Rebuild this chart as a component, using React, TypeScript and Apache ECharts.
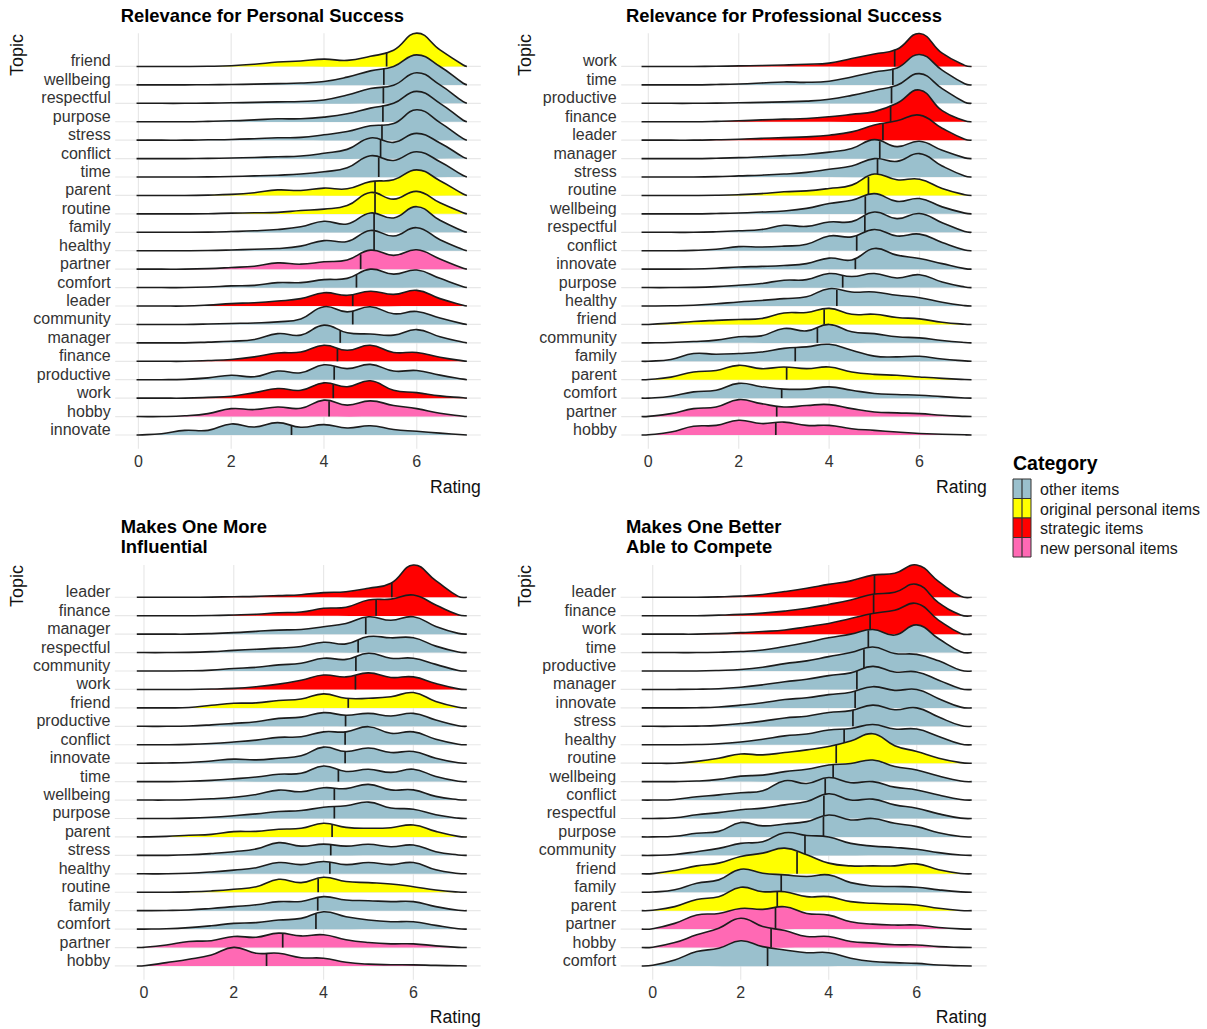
import React, { useEffect, useRef } from "react";
import * as echarts from "echarts";

// ---------- shared data ----------
const X_GRID = [0, 0.5, 1, 1.5, 2, 2.5, 3, 3.5, 4, 4.5, 5, 5.5, 6, 6.5, 7];
const X_TICKS = [0, 2, 4, 6];

const CATEGORY_NAMES = ["other items", "original personal items", "strategic items", "new personal items"];
const CATEGORY_COLORS = ["#9AC0CD", "#FFFF00", "#FF0000", "#FF69B4"];

const TOPIC_CATEGORY: Record<string, number> = {
  friend: 1, parent: 1, routine: 1,
  leader: 2, finance: 2, work: 2,
  partner: 3, hobby: 3,
  wellbeing: 0, respectful: 0, purpose: 0, stress: 0, conflict: 0, time: 0, family: 0,
  healthy: 0, comfort: 0, community: 0, manager: 0, productive: 0, innovate: 0,
};

// ---------- panel 1 ----------
const P1_TITLE = "Relevance for Personal Success";
const P1_TOPICS = ["friend", "wellbeing", "respectful", "purpose", "stress", "conflict", "time", "parent", "routine", "family", "healthy", "partner", "comfort", "leader", "community", "manager", "finance", "productive", "work", "hobby", "innovate"];
const P1_MEANS = [5.35, 5.29, 5.28, 5.27, 5.25, 5.22, 5.18, 5.1, 5.1, 5.08, 5.08, 4.79, 4.7, 4.62, 4.62, 4.35, 4.29, 4.22, 4.2, 4.11, 3.3];
const P1_CURVE_RANGE = [-0.04, 7.08];
const P1_DENSITY: Record<string, number[]> = {
  friend: [0, 0, 0, 0.01, 0.04, 0.12, 0.24, 0.3, 0.4, 0.33, 0.55, 0.88, 1.81, 0.9, 0.08],
  wellbeing: [0, 0, 0, 0.01, 0.02, 0.04, 0.07, 0.1, 0.18, 0.42, 0.76, 1.0, 1.63, 1.0, 0.09],
  respectful: [0, 0, 0, 0.01, 0.03, 0.05, 0.08, 0.1, 0.18, 0.45, 0.8, 0.98, 1.66, 1.0, 0.09],
  purpose: [0, 0, 0, 0.02, 0.05, 0.1, 0.16, 0.16, 0.25, 0.43, 0.74, 1.0, 1.65, 1.0, 0.08],
  stress: [0, 0, 0, 0.02, 0.04, 0.08, 0.13, 0.15, 0.29, 0.47, 0.78, 0.9, 1.65, 0.95, 0.08],
  conflict: [0, 0, 0, 0.01, 0.03, 0.06, 0.1, 0.14, 0.29, 0.5, 1.12, 0.88, 1.37, 0.85, 0.08],
  time: [0, 0, 0, 0.01, 0.03, 0.06, 0.1, 0.16, 0.29, 0.5, 1.15, 0.9, 1.37, 0.83, 0.08],
  parent: [0, 0, 0, 0.02, 0.06, 0.15, 0.3, 0.27, 0.4, 0.36, 0.75, 0.85, 1.39, 0.8, 0.08],
  routine: [0, 0, 0, 0.01, 0.04, 0.06, 0.08, 0.18, 0.26, 0.45, 1.16, 0.8, 1.22, 0.6, 0.06],
  family: [0, 0, 0, 0.01, 0.04, 0.08, 0.15, 0.3, 0.6, 0.45, 1.05, 0.78, 1.39, 0.65, 0.06],
  healthy: [0, 0, 0, 0.01, 0.04, 0.08, 0.12, 0.25, 0.55, 0.5, 1.1, 0.8, 1.25, 0.6, 0.06],
  partner: [0, 0, 0, 0.03, 0.09, 0.16, 0.34, 0.27, 0.4, 0.5, 1.03, 0.75, 1.05, 0.55, 0.05],
  comfort: [0, 0, 0, 0.03, 0.09, 0.12, 0.27, 0.27, 0.43, 0.5, 1.0, 0.73, 0.95, 0.5, 0.05],
  leader: [0, 0, 0, 0.05, 0.13, 0.18, 0.27, 0.4, 0.72, 0.58, 0.8, 0.63, 0.85, 0.4, 0.04],
  community: [0, 0, 0, 0.02, 0.05, 0.08, 0.14, 0.3, 0.96, 0.68, 0.96, 0.58, 0.7, 0.35, 0.03],
  manager: [0, 0, 0, 0.04, 0.09, 0.18, 0.5, 0.42, 0.96, 0.55, 0.48, 0.42, 0.72, 0.33, 0.03],
  finance: [0, 0, 0, 0.04, 0.1, 0.24, 0.45, 0.5, 0.87, 0.6, 0.87, 0.48, 0.48, 0.22, 0.02],
  productive: [0, 0, 0.02, 0.1, 0.24, 0.16, 0.47, 0.38, 0.81, 0.6, 0.83, 0.47, 0.5, 0.25, 0.03],
  work: [0, 0, 0, 0.04, 0.1, 0.3, 0.52, 0.43, 0.83, 0.62, 0.94, 0.43, 0.3, 0.12, 0.02],
  hobby: [0, 0, 0.04, 0.16, 0.43, 0.38, 0.52, 0.45, 0.89, 0.62, 0.85, 0.6, 0.43, 0.18, 0.02],
  innovate: [0, 0.07, 0.25, 0.25, 0.6, 0.43, 0.67, 0.42, 0.56, 0.38, 0.5, 0.3, 0.2, 0.1, 0.01],
};

// ---------- panel 2 ----------
const P2_TITLE = "Relevance for Professional Success";
const P2_TOPICS = ["work", "time", "productive", "finance", "leader", "manager", "stress", "routine", "wellbeing", "respectful", "conflict", "innovate", "purpose", "healthy", "friend", "community", "family", "parent", "comfort", "partner", "hobby"];
const P2_MEANS = [5.45, 5.41, 5.38, 5.36, 5.19, 5.12, 5.07, 4.87, 4.8, 4.79, 4.61, 4.58, 4.3, 4.17, 3.89, 3.74, 3.25, 3.06, 2.95, 2.84, 2.82];
const P2_CURVE_RANGE = [-0.15, 7.15];
const P2_DENSITY: Record<string, number[]> = {
  work: [0, 0, 0, 0.01, 0.03, 0.05, 0.08, 0.12, 0.18, 0.43, 0.68, 0.93, 1.79, 0.72, 0.06],
  time: [0, 0, 0, 0.02, 0.05, 0.1, 0.16, 0.14, 0.2, 0.43, 0.7, 0.92, 1.65, 0.8, 0.06],
  productive: [0, 0, 0, 0.01, 0.03, 0.05, 0.08, 0.12, 0.22, 0.43, 0.7, 0.98, 1.61, 0.8, 0.06],
  finance: [0, 0, 0, 0.02, 0.05, 0.1, 0.14, 0.18, 0.27, 0.4, 0.55, 1.0, 1.72, 0.6, 0.05],
  leader: [0, 0, 0, 0.02, 0.05, 0.1, 0.14, 0.18, 0.27, 0.45, 0.82, 1.05, 1.36, 0.65, 0.05],
  manager: [0, 0, 0, 0.02, 0.05, 0.1, 0.16, 0.22, 0.35, 0.55, 1.03, 0.65, 0.94, 0.45, 0.04],
  stress: [0, 0, 0, 0.02, 0.06, 0.1, 0.16, 0.25, 0.42, 0.6, 1.0, 0.85, 1.27, 0.6, 0.05],
  routine: [0, 0, 0, 0.01, 0.04, 0.1, 0.2, 0.25, 0.38, 0.56, 1.16, 0.85, 0.88, 0.38, 0.04],
  wellbeing: [0, 0, 0, 0.02, 0.05, 0.1, 0.16, 0.3, 0.56, 0.74, 1.1, 0.68, 0.83, 0.38, 0.04],
  respectful: [0, 0, 0, 0.03, 0.08, 0.15, 0.38, 0.32, 0.56, 0.58, 1.1, 0.74, 1.02, 0.52, 0.04],
  conflict: [0, 0, 0.02, 0.08, 0.22, 0.2, 0.25, 0.35, 0.8, 0.75, 1.15, 0.8, 0.9, 0.45, 0.04],
  innovate: [0, 0, 0.01, 0.05, 0.12, 0.15, 0.2, 0.3, 0.6, 0.5, 1.12, 0.76, 0.58, 0.3, 0.03],
  purpose: [0, 0, 0.01, 0.05, 0.13, 0.22, 0.4, 0.43, 0.76, 0.6, 0.76, 0.52, 0.7, 0.3, 0.03],
  healthy: [0, 0.01, 0.04, 0.12, 0.22, 0.3, 0.4, 0.5, 0.94, 0.76, 0.76, 0.58, 0.45, 0.2, 0.02],
  friend: [0, 0.07, 0.16, 0.22, 0.27, 0.32, 0.62, 0.65, 0.87, 0.55, 0.55, 0.38, 0.3, 0.12, 0.01],
  community: [0, 0.02, 0.07, 0.15, 0.33, 0.38, 0.78, 0.65, 1.0, 0.6, 0.5, 0.33, 0.27, 0.13, 0.02],
  family: [0, 0.1, 0.42, 0.38, 0.42, 0.5, 0.7, 0.78, 0.92, 0.6, 0.28, 0.24, 0.27, 0.12, 0.02],
  parent: [0.01, 0.14, 0.42, 0.5, 0.78, 0.6, 0.69, 0.6, 0.69, 0.42, 0.29, 0.24, 0.15, 0.07, 0.01],
  comfort: [0, 0.1, 0.34, 0.43, 0.8, 0.62, 0.49, 0.49, 0.61, 0.43, 0.25, 0.2, 0.16, 0.08, 0.01],
  partner: [0.01, 0.16, 0.43, 0.52, 0.92, 0.7, 0.52, 0.6, 0.65, 0.43, 0.25, 0.2, 0.16, 0.07, 0.01],
  hobby: [0.01, 0.16, 0.47, 0.52, 0.8, 0.62, 0.7, 0.52, 0.52, 0.34, 0.25, 0.16, 0.08, 0.04, 0.01],
};

// ---------- panel 3 ----------
const P3_TITLE = "Makes One More\nInfluential";
const P3_TOPICS = ["leader", "finance", "manager", "respectful", "community", "work", "friend", "productive", "conflict", "innovate", "time", "wellbeing", "purpose", "parent", "stress", "healthy", "routine", "family", "comfort", "partner", "hobby"];
const P3_MEANS = [5.52, 5.17, 4.94, 4.77, 4.72, 4.71, 4.55, 4.49, 4.48, 4.48, 4.33, 4.24, 4.24, 4.19, 4.16, 4.14, 3.88, 3.87, 3.83, 3.09, 2.73];
const P3_CURVE_RANGE = [-0.16, 7.19];
const P3_DENSITY: Record<string, number[]> = {
  leader: [0, 0, 0, 0.01, 0.03, 0.05, 0.09, 0.14, 0.25, 0.3, 0.49, 0.76, 1.75, 0.9, 0.05],
  finance: [0, 0, 0, 0.01, 0.04, 0.08, 0.16, 0.2, 0.4, 0.46, 0.85, 0.9, 1.12, 0.58, 0.05],
  manager: [0, 0, 0, 0.03, 0.08, 0.15, 0.22, 0.25, 0.4, 0.58, 0.94, 0.75, 0.94, 0.42, 0.04],
  respectful: [0, 0, 0.01, 0.05, 0.12, 0.18, 0.24, 0.33, 0.56, 0.47, 0.87, 0.8, 0.8, 0.35, 0.03],
  community: [0, 0, 0.01, 0.05, 0.14, 0.2, 0.33, 0.42, 0.69, 0.63, 0.96, 0.69, 0.69, 0.36, 0.03],
  work: [0, 0, 0, 0.02, 0.06, 0.15, 0.29, 0.5, 0.78, 0.68, 0.9, 0.65, 0.68, 0.32, 0.03],
  friend: [0, 0, 0.02, 0.14, 0.25, 0.27, 0.4, 0.48, 0.76, 0.52, 0.52, 0.6, 0.83, 0.35, 0.03],
  productive: [0, 0, 0.02, 0.08, 0.16, 0.25, 0.43, 0.5, 0.74, 0.6, 0.7, 0.56, 0.7, 0.34, 0.03],
  conflict: [0, 0, 0.02, 0.07, 0.15, 0.25, 0.4, 0.43, 0.7, 0.7, 0.98, 0.62, 0.7, 0.3, 0.03],
  innovate: [0, 0.01, 0.04, 0.12, 0.22, 0.18, 0.27, 0.4, 0.87, 0.63, 0.82, 0.58, 0.63, 0.27, 0.02],
  time: [0, 0, 0.02, 0.07, 0.15, 0.25, 0.4, 0.45, 0.85, 0.55, 0.67, 0.5, 0.67, 0.28, 0.02],
  wellbeing: [0, 0, 0.02, 0.07, 0.15, 0.3, 0.54, 0.45, 0.67, 0.62, 0.85, 0.55, 0.55, 0.2, 0.02],
  purpose: [0, 0, 0.02, 0.07, 0.15, 0.25, 0.38, 0.43, 0.61, 0.69, 0.89, 0.57, 0.5, 0.2, 0.02],
  parent: [0, 0.03, 0.09, 0.14, 0.29, 0.3, 0.42, 0.47, 0.74, 0.52, 0.47, 0.5, 0.65, 0.3, 0.03],
  stress: [0, 0, 0.03, 0.1, 0.2, 0.35, 0.69, 0.5, 0.61, 0.5, 0.6, 0.47, 0.56, 0.2, 0.02],
  healthy: [0, 0, 0.03, 0.1, 0.2, 0.33, 0.61, 0.5, 0.67, 0.5, 0.61, 0.5, 0.61, 0.22, 0.02],
  routine: [0, 0, 0.02, 0.07, 0.16, 0.3, 0.7, 0.52, 0.81, 0.58, 0.52, 0.45, 0.3, 0.12, 0.01],
  family: [0, 0.01, 0.04, 0.12, 0.22, 0.32, 0.49, 0.5, 0.76, 0.58, 0.54, 0.49, 0.49, 0.22, 0.02],
  comfort: [0, 0.02, 0.08, 0.18, 0.31, 0.35, 0.49, 0.58, 0.94, 0.67, 0.49, 0.4, 0.4, 0.2, 0.02],
  partner: [0.01, 0.14, 0.33, 0.37, 0.6, 0.56, 0.78, 0.63, 0.69, 0.42, 0.27, 0.2, 0.2, 0.09, 0.01],
  hobby: [0.01, 0.18, 0.36, 0.6, 1.01, 0.69, 0.69, 0.45, 0.42, 0.2, 0.1, 0.07, 0.06, 0.03, 0.01],
};

// ---------- panel 4 ----------
const P4_TITLE = "Makes One Better\nAble to Compete";
const P4_TOPICS = ["leader", "finance", "work", "time", "productive", "manager", "innovate", "stress", "healthy", "routine", "wellbeing", "conflict", "respectful", "purpose", "community", "friend", "family", "parent", "partner", "hobby", "comfort"];
const P4_MEANS = [5.04, 5.02, 4.94, 4.9, 4.8, 4.64, 4.6, 4.55, 4.35, 4.17, 4.1, 3.92, 3.89, 3.88, 3.46, 3.28, 2.92, 2.83, 2.79, 2.69, 2.61];
const P4_CURVE_RANGE = [-0.25, 7.25];
const P4_DENSITY: Record<string, number[]> = {
  leader: [0, 0, 0, 0.02, 0.06, 0.15, 0.31, 0.49, 0.7, 0.89, 1.2, 1.3, 1.75, 0.85, 0.05],
  finance: [0, 0, 0, 0.03, 0.07, 0.14, 0.25, 0.4, 0.61, 0.85, 1.16, 1.27, 1.7, 0.7, 0.04],
  work: [0, 0, 0, 0.03, 0.08, 0.14, 0.22, 0.4, 0.58, 0.85, 1.12, 1.3, 1.66, 0.75, 0.04],
  time: [0, 0, 0, 0.02, 0.06, 0.14, 0.33, 0.55, 0.8, 1.0, 1.25, 0.95, 1.5, 0.75, 0.05],
  productive: [0, 0, 0, 0.03, 0.08, 0.2, 0.4, 0.55, 0.78, 1.0, 1.3, 0.95, 0.9, 0.55, 0.04],
  manager: [0, 0, 0.01, 0.04, 0.12, 0.25, 0.42, 0.55, 0.75, 0.9, 1.25, 0.95, 0.95, 0.5, 0.04],
  innovate: [0, 0, 0.01, 0.05, 0.15, 0.28, 0.45, 0.55, 0.72, 0.85, 1.15, 0.95, 1.0, 0.5, 0.04],
  stress: [0, 0, 0.01, 0.05, 0.15, 0.28, 0.45, 0.55, 0.75, 0.85, 1.15, 0.9, 1.0, 0.5, 0.04],
  healthy: [0, 0, 0.01, 0.05, 0.15, 0.3, 0.48, 0.58, 0.8, 0.88, 1.1, 0.85, 0.85, 0.45, 0.04],
  routine: [0, 0, 0.1, 0.27, 0.5, 0.45, 0.58, 0.72, 0.9, 1.2, 1.6, 0.95, 0.63, 0.27, 0.03],
  wellbeing: [0, 0, 0.03, 0.12, 0.3, 0.35, 0.54, 0.67, 0.9, 0.98, 1.17, 0.82, 0.63, 0.3, 0.03],
  conflict: [0, 0.03, 0.18, 0.28, 0.4, 0.5, 1.05, 0.9, 1.22, 0.94, 1.0, 0.7, 0.55, 0.27, 0.03],
  respectful: [0, 0.04, 0.2, 0.32, 0.47, 0.56, 0.74, 0.92, 1.34, 1.0, 1.05, 0.74, 0.56, 0.25, 0.02],
  purpose: [0, 0.04, 0.2, 0.3, 0.78, 0.6, 0.7, 0.83, 1.19, 0.92, 1.0, 0.74, 0.56, 0.23, 0.02],
  community: [0, 0.05, 0.2, 0.38, 0.65, 0.74, 1.23, 1.08, 1.0, 0.65, 0.5, 0.43, 0.33, 0.15, 0.02],
  friend: [0.01, 0.18, 0.43, 0.58, 0.94, 1.12, 1.39, 1.03, 0.58, 0.43, 0.43, 0.43, 0.54, 0.22, 0.02],
  family: [0.01, 0.13, 0.49, 0.67, 1.25, 1.03, 0.94, 0.85, 0.94, 0.52, 0.34, 0.31, 0.27, 0.13, 0.02],
  parent: [0.02, 0.22, 0.61, 0.76, 1.27, 1.03, 1.03, 0.76, 0.76, 0.49, 0.4, 0.36, 0.31, 0.13, 0.01],
  partner: [0.02, 0.31, 0.76, 0.85, 1.12, 1.07, 1.21, 0.85, 0.76, 0.4, 0.27, 0.22, 0.22, 0.09, 0.01],
  hobby: [0.02, 0.27, 0.69, 1.05, 1.59, 1.14, 0.92, 0.6, 0.6, 0.33, 0.24, 0.15, 0.14, 0.05, 0.01],
  comfort: [0.04, 0.33, 0.78, 0.96, 1.37, 1.05, 0.87, 0.72, 0.72, 0.42, 0.24, 0.18, 0.14, 0.05, 0.01],
};

// ---------- layout (positions / styles only) ----------
const FONT = '"Liberation Sans", Arial, Helvetica, sans-serif';
const LINE_COLOR = "#1c1c1c";
const GRID_COLOR = "#E8E8E8";
const LABEL_COLOR = "#333333";

const PANELS = [
  { title: P1_TITLE, topics: P1_TOPICS, means: P1_MEANS, density: P1_DENSITY, curve: P1_CURVE_RANGE,
    xMin: -0.5, xMax: 7.38, yMin: -0.75, yMax: 21.8, left: 115.2, top: 33.3, width: 365.6, height: 415.5,
    titleX: 120.7, titleTop: 5.7, topicX: 17, topicY: 55, ratingY: 486.7 },
  { title: P2_TITLE, topics: P2_TOPICS, means: P2_MEANS, density: P2_DENSITY, curve: P2_CURVE_RANGE,
    xMin: -0.6, xMax: 7.49, yMin: -0.75, yMax: 21.8, left: 621.2, top: 33.3, width: 365.7, height: 415.5,
    titleX: 626, titleTop: 5.7, topicX: 525, topicY: 55, ratingY: 486.7 },
  { title: P3_TITLE, topics: P3_TOPICS, means: P3_MEANS, density: P3_DENSITY, curve: P3_CURVE_RANGE,
    xMin: -0.65, xMax: 7.5, yMin: -0.75, yMax: 21.75, left: 114.8, top: 565, width: 365.9, height: 414.8,
    titleX: 120.7, titleTop: 516.7, topicX: 17, topicY: 586, ratingY: 1016.7 },
  { title: P4_TITLE, topics: P4_TOPICS, means: P4_MEANS, density: P4_DENSITY, curve: P4_CURVE_RANGE,
    xMin: -0.73, xMax: 7.59, yMin: -0.75, yMax: 21.75, left: 620.6, top: 565, width: 366.1, height: 414.8,
    titleX: 626, titleTop: 516.7, topicX: 525, topicY: 586, ratingY: 1016.7 },
];

const LEGEND = { x: 1013, titleY: 463.3, keyTop: 479, keyW: 18, keyH: 19.5, textX: 1040 };

function heightAt(dens: number[], x: number): number {
  for (let k = 0; k < X_GRID.length - 1; k++) {
    if (x >= X_GRID[k] && x <= X_GRID[k + 1]) {
      const t = (x - X_GRID[k]) / (X_GRID[k + 1] - X_GRID[k]);
      return dens[k] + (dens[k + 1] - dens[k]) * t;
    }
  }
  return 0;
}

function buildOption() {
  const grid = PANELS.map((p) => ({
    left: p.left, top: p.top, width: p.width, height: p.height,
    containLabel: false, outerBoundsMode: "none",
  }));

  const xAxis = PANELS.map((p, i) => ({
    gridIndex: i, type: "value", min: p.xMin, max: p.xMax, minInterval: 2, maxInterval: 2,
    axisLine: { show: false }, axisTick: { show: false }, splitLine: { show: false },
    axisLabel: {
      formatter: (v: number) => {
        const r = Math.round(v);
        return Math.abs(v - r) < 1e-6 && X_TICKS.includes(r) ? String(r) : "";
      },
      fontSize: 16, color: LABEL_COLOR, margin: 5, fontFamily: FONT,
    },
  }));

  const yAxis = PANELS.map((p, i) => {
    const n = p.topics.length;
    return {
      gridIndex: i, type: "value", min: p.yMin, max: p.yMax, minInterval: 1, maxInterval: 1,
      axisLine: { show: false }, axisTick: { show: false }, splitLine: { show: false },
      axisLabel: {
        formatter: (v: number) => {
          const r = Math.round(v);
          if (Math.abs(v - r) > 1e-6) return "";
          const idx = n - 1 - r;
          return idx >= 0 && idx < n ? p.topics[idx] : "";
        },
        fontSize: 16, color: LABEL_COLOR, margin: 4.5, fontFamily: FONT,
        verticalAlign: "bottom", lineHeight: 11,
      },
    };
  });

  const series: any[] = [];
  PANELS.forEach((p, i) => {
    const n = p.topics.length;
    // vertical grid lines
    series.push({
      type: "custom", xAxisIndex: i, yAxisIndex: i, silent: true, clip: false, z: 1,
      data: X_TICKS.map((v) => [v, 0]),
      renderItem: (params: any, api: any) => {
        const v = api.value(0);
        const a = api.coord([v, p.yMin]);
        const b = api.coord([v, p.yMax]);
        return { type: "line", shape: { x1: a[0], y1: a[1], x2: b[0], y2: b[1] },
          style: { stroke: GRID_COLOR, lineWidth: 1.2, fill: "none" } };
      },
    });
    // horizontal grid lines at each ridge baseline
    series.push({
      type: "custom", xAxisIndex: i, yAxisIndex: i, silent: true, clip: false, z: 1,
      data: p.topics.map((t, k) => [0, n - 1 - k]),
      renderItem: (params: any, api: any) => {
        const row = api.value(1);
        const a = api.coord([p.xMin, row]);
        const b = api.coord([p.xMax, row]);
        return { type: "line", shape: { x1: a[0], y1: a[1], x2: b[0], y2: b[1] },
          style: { stroke: GRID_COLOR, lineWidth: 1.2, fill: "none" } };
      },
    });
    // ridges
    series.push({
      type: "custom", xAxisIndex: i, yAxisIndex: i, silent: true, clip: false, z: 2,
      data: p.topics.map((t, k) => [p.means[k], n - 1 - k]),
      renderItem: (params: any, api: any) => {
        const k = params.dataIndex;
        const topic = p.topics[k];
        const dens = p.density[topic];
        const row = n - 1 - k;
        const pts: number[][] = [];
        pts.push(api.coord([p.curve[0], row]));
        X_GRID.forEach((x, j) => pts.push(api.coord([x, row + dens[j]])));
        pts.push(api.coord([p.curve[1], row]));
        const color = CATEGORY_COLORS[TOPIC_CATEGORY[topic]];
        const m = p.means[k];
        const h = heightAt(dens, m);
        const a = api.coord([m, row]);
        const b = api.coord([m, row + h]);
        return {
          type: "group",
          children: [
            { type: "polygon", z2: k * 4, shape: { points: pts.map((q) => q.slice()), smooth: 0.45 },
              style: { fill: color, stroke: "none" } },
            { type: "polyline", z2: k * 4 + 1, shape: { points: pts.map((q) => q.slice()), smooth: 0.45 },
              style: { fill: "none", stroke: LINE_COLOR, lineWidth: 1.6, lineJoin: "round" } },
            { type: "line", z2: k * 4 + 2, shape: { x1: a[0], y1: a[1], x2: b[0], y2: b[1] },
              style: { fill: "none", stroke: LINE_COLOR, lineWidth: 1.7 } },
          ],
        };
      },
    });
  });

  const title = PANELS.map((p) => ({
    text: p.title, left: p.titleX, top: p.titleTop, padding: 0,
    textStyle: { fontSize: 18.4, fontWeight: "bold", color: "#000", lineHeight: 20, fontFamily: FONT },
  }));

  const graphic: any[] = [];
  PANELS.forEach((p) => {
    graphic.push({
      type: "text", x: p.topicX, y: p.topicY, rotation: Math.PI / 2,
      style: { text: "Topic", fontSize: 18, fill: "#111", align: "center", verticalAlign: "middle", fontFamily: FONT },
    });
    graphic.push({
      type: "text", x: p.left + p.width, y: p.ratingY,
      style: { text: "Rating", fontSize: 17.6, fill: "#111", align: "right", verticalAlign: "middle", fontFamily: FONT },
    });
  });
  graphic.push({
    type: "text", x: LEGEND.x, y: LEGEND.titleY,
    style: { text: "Category", fontSize: 19.5, fontWeight: "bold", fill: "#000", align: "left", verticalAlign: "middle", fontFamily: FONT },
  });
  CATEGORY_NAMES.forEach((name, k) => {
    const y0 = LEGEND.keyTop + k * LEGEND.keyH;
    graphic.push({
      type: "rect", shape: { x: LEGEND.x, y: y0, width: LEGEND.keyW, height: LEGEND.keyH },
      style: { fill: CATEGORY_COLORS[k], stroke: "#333", lineWidth: 1 },
    });
    graphic.push({
      type: "line", shape: { x1: LEGEND.x + LEGEND.keyW / 2, y1: y0, x2: LEGEND.x + LEGEND.keyW / 2, y2: y0 + LEGEND.keyH },
      style: { stroke: "#333", lineWidth: 1.2 },
    });
    graphic.push({
      type: "text", x: LEGEND.textX, y: y0 + LEGEND.keyH / 2 + 1,
      style: { text: name, fontSize: 16, fill: "#1a1a1a", align: "left", verticalAlign: "middle", fontFamily: FONT },
    });
  });

  return {
    animation: false,
    backgroundColor: "#ffffff",
    textStyle: { fontFamily: FONT },
    title, grid, xAxis, yAxis, series, graphic,
  };
}

export default function App() {
  const ref = useRef<HTMLDivElement>(null);
  useEffect(() => {
    if (!ref.current) return;
    const chart = echarts.init(ref.current, undefined, { renderer: "svg" });
    chart.setOption(buildOption() as any);
    return () => chart.dispose();
  }, []);
  return (
    <div
      ref={ref}
      style={{ position: "fixed", left: 0, top: 0, width: 1207, height: 1029, background: "#fff" }}
    />
  );
}
